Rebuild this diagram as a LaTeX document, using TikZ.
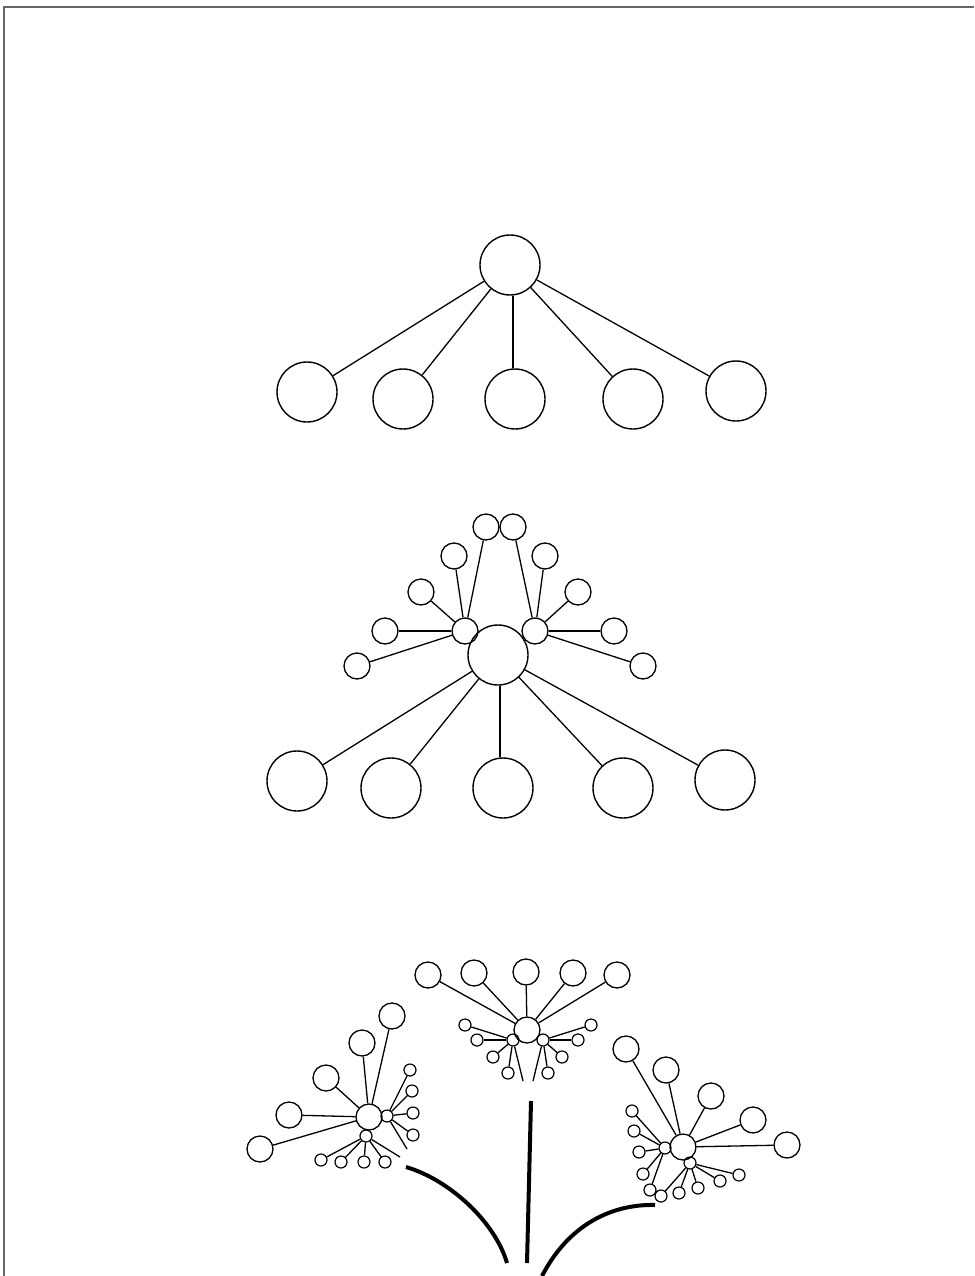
\documentclass[tikz,border=0pt]{standalone}
\begin{document}
\begin{tikzpicture}[x=1pt,y=-1pt,line width=1.3pt,
  bigc/.style={circle,draw,line width=1.4pt,minimum size=60pt,inner sep=0pt},
  midc/.style={circle,draw,line width=1.3pt,minimum size=26pt,inner sep=0pt},
  smc/.style={circle,draw,line width=1.2pt,minimum size=12pt,inner sep=0pt},
  frame/.style={draw=black!60,line width=1.6pt},
  stem/.style={line width=4pt}]
\useasboundingbox (0,0) rectangle (974,1276);
% frame
\coordinate (f1) at (4,1276); \coordinate (f2) at (4,7); \coordinate (f3) at (974,7);
\draw[frame] (f1) -- (f2) -- (f3);

% ---- top tree ----
\node[bigc] (r) at (510,265) {};
\node[bigc] (c1) at (307,392) {};
\node[bigc] (c2) at (403,399) {};
\node[bigc] (c3) at (515,399) {};
\node[bigc] (c4) at (633,399) {};
\node[bigc] (c5) at (736,391) {};
\foreach \c in {c1,c2,c4,c5} \draw (r) -- (\c);
\draw (r.south) ++(3,0) coordinate (rs) -- (rs |- c3.north);

% ---- middle tree ----
\node[bigc] (m) at (498,655) {};
\node[bigc] (b1) at (297,781) {};
\node[bigc] (b2) at (391,788) {};
\node[bigc] (b3) at (503,788) {};
\node[bigc] (b4) at (623,788) {};
\node[bigc] (b5) at (725,780) {};
\foreach \c in {b1,b2,b4,b5} \draw (m) -- (\c);
\draw (m.south) ++(2,0) coordinate (ms) -- (ms |- b3.north);
\node[midc] (hl) at (465,631) {};
\node[midc] (hr) at (535,631) {};
\node[midc] (l1) at (357,666) {};
\node[midc] (l2) at (385,631) {};
\node[midc] (l3) at (421,592) {};
\node[midc] (l4) at (454,556) {};
\node[midc] (l5) at (486,527) {};
\node[midc] (q1) at (513,527) {};
\node[midc] (q2) at (545,556) {};
\node[midc] (q3) at (578,592) {};
\node[midc] (q4) at (614,631) {};
\node[midc] (q5) at (643,666) {};
\foreach \c in {l1,l2,l3,l4,l5} \draw (hl) -- (\c);
\foreach \c in {q1,q2,q3,q4,q5} \draw (hr) -- (\c);

% ---- bottom: left cluster ----
\node[midc] (A) at (369,1117) {};
\node[smc] (Ar) at (387,1116) {};
\node[smc] (Ab) at (366,1136) {};
\node[midc] (A1) at (260,1149) {};
\node[midc] (A2) at (289,1115) {};
\node[midc] (A3) at (326,1078) {};
\node[midc] (A4) at (362,1043) {};
\node[midc] (A5) at (392,1016) {};
\foreach \c in {A1,A2,A3,A4,A5} \draw (A) -- (\c);
\node[smc] (Ar1) at (410,1070) {};
\node[smc] (Ar2) at (412,1091) {};
\node[smc] (Ar3) at (413,1113) {};
\node[smc] (Ar4) at (413,1135) {};
\foreach \c in {Ar1,Ar2,Ar3,Ar4} \draw (Ar) -- (\c);
\coordinate (Are) at (407,1149);
\draw (Ar) -- (Are);
\node[smc] (Ab1) at (321,1160) {};
\node[smc] (Ab2) at (341,1162) {};
\node[smc] (Ab3) at (364,1162) {};
\node[smc] (Ab4) at (385,1162) {};
\foreach \c in {Ab1,Ab2,Ab3,Ab4} \draw (Ab) -- (\c);
\coordinate (Abe) at (400,1157);
\draw (Ab) -- (Abe);

% ---- bottom: middle cluster ----
\node[midc] (B) at (527,1030) {};
\node[smc] (Bl) at (513,1040) {};
\node[smc] (Br) at (543,1040) {};
\node[midc] (B1) at (428,975) {};
\node[midc] (B2) at (474,973) {};
\node[midc] (B3) at (526,972) {};
\node[midc] (B4) at (573,973) {};
\node[midc] (B5) at (617,975) {};
\foreach \c in {B1,B2,B3,B4,B5} \draw (B) -- (\c);
\node[smc] (Bl1) at (465,1025) {};
\node[smc] (Bl2) at (477,1040) {};
\node[smc] (Bl3) at (493,1057) {};
\node[smc] (Bl4) at (508,1073) {};
\foreach \c in {Bl1,Bl2,Bl3,Bl4} \draw (Bl) -- (\c);
\coordinate (Ble) at (523,1081);
\draw (Bl) -- (Ble);
\node[smc] (Br1) at (591,1025) {};
\node[smc] (Br2) at (578,1040) {};
\node[smc] (Br3) at (562,1057) {};
\node[smc] (Br4) at (548,1073) {};
\foreach \c in {Br1,Br2,Br3,Br4} \draw (Br) -- (\c);
\coordinate (Bre) at (533,1081);
\draw (Br) -- (Bre);

% ---- bottom: right cluster ----
\node[midc] (C) at (683,1147) {};
\node[smc] (Cl) at (665,1148) {};
\node[smc] (Cb) at (690,1163) {};
\node[midc] (C1) at (626,1049) {};
\node[midc] (C2) at (666,1070) {};
\node[midc] (C3) at (711,1096) {};
\node[midc] (C4) at (753,1120) {};
\node[midc] (C5) at (787,1145) {};
\foreach \c in {C1,C2,C3,C4,C5} \draw (C) -- (\c);
\node[smc] (Cl1) at (632,1111) {};
\node[smc] (Cl2) at (634,1131) {};
\node[smc] (Cl3) at (639,1152) {};
\node[smc] (Cl4) at (643,1174) {};
\node[smc] (Cl5) at (650,1190) {};
\foreach \c in {Cl1,Cl2,Cl3,Cl4,Cl5} \draw (Cl) -- (\c);
\node[smc] (Cb1) at (661,1196) {};
\node[smc] (Cb2) at (679,1193) {};
\node[smc] (Cb3) at (698,1188) {};
\node[smc] (Cb4) at (720,1181) {};
\node[smc] (Cb5) at (739,1175) {};
\foreach \c in {Cb1,Cb2,Cb3,Cb4,Cb5} \draw (Cb) -- (\c);

% ---- stems ----
\coordinate (s1a) at (406,1167); \coordinate (s1b) at (507,1263);
\coordinate (s2a) at (531,1101); \coordinate (s2b) at (527,1263);
\coordinate (s3a) at (655,1205); \coordinate (s3b) at (542,1276);
\draw[stem] (s1a) .. controls (450,1180) and (495,1222) .. (s1b);
\draw[stem] (s2a) -- (s2b);
\draw[stem] (s3a) .. controls (620,1204) and (572,1218) .. (s3b);
\end{tikzpicture}
\end{document}
